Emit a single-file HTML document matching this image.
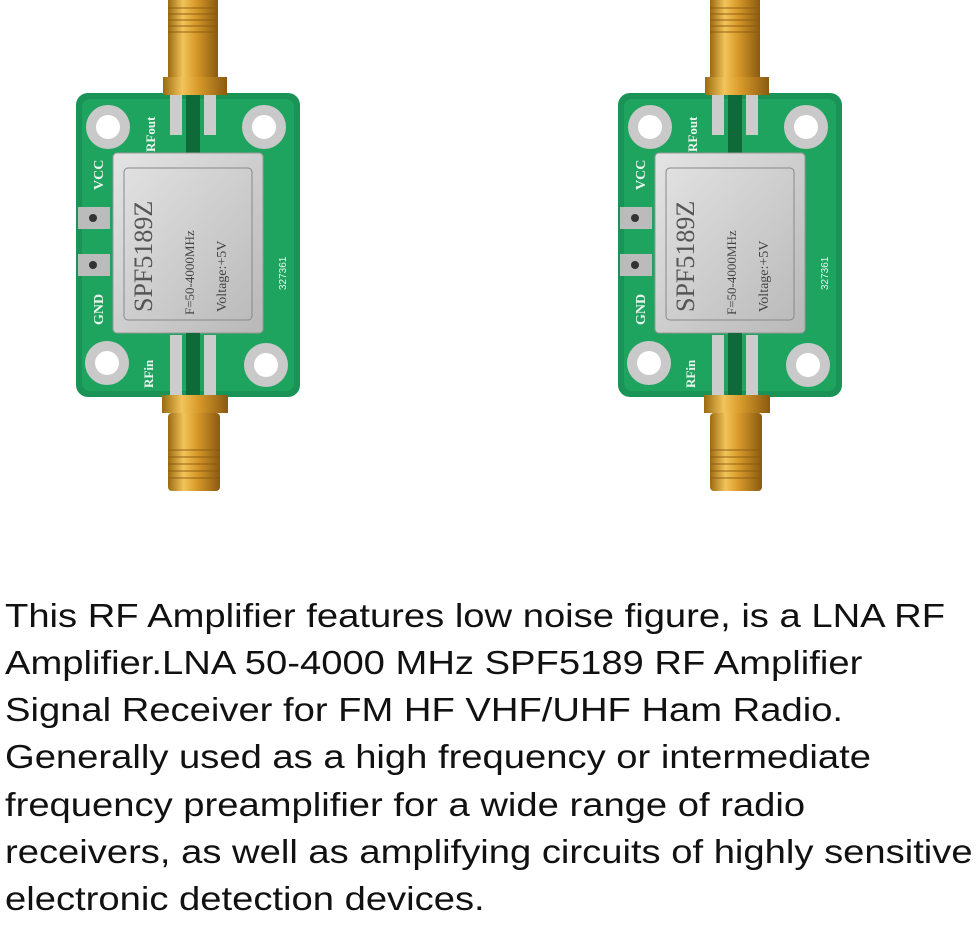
<!DOCTYPE html>
<html><head><meta charset="utf-8"><style>
html,body{margin:0;padding:0;background:#fff;width:976px;height:925px;overflow:hidden;position:relative}
.t{position:absolute;left:5px;font-family:"Comic Sans MS","Liberation Sans",sans-serif;font-size:33px;line-height:47px;white-space:nowrap;color:#111;transform:scaleX(1.157);transform-origin:0 0}
</style></head><body>
<svg width="976" height="520" style="position:absolute;left:0;top:0">
<defs>
<linearGradient id="gold" x1="0" x2="1"><stop offset="0" stop-color="#9a6a10"/><stop offset="0.3" stop-color="#f2c45a"/><stop offset="0.55" stop-color="#d89a2a"/><stop offset="1" stop-color="#8a5a10"/></linearGradient>
<linearGradient id="sil" x1="0" y1="0" x2="1" y2="1"><stop offset="0" stop-color="#e4e4e4"/><stop offset="1" stop-color="#b8b8b8"/></linearGradient>
<g id="b">
 <rect x="168" y="0" width="50" height="80" fill="url(#gold)"/>
 <g stroke="#8a5a10" stroke-width="1.5" opacity=".6"><line x1="168" y1="8" x2="218" y2="8"/><line x1="168" y1="14" x2="218" y2="14"/><line x1="168" y1="20" x2="218" y2="20"/><line x1="168" y1="26" x2="218" y2="26"/><line x1="168" y1="32" x2="218" y2="32"/></g>
 <rect x="76" y="93" width="224" height="304" rx="12" fill="#1a9456"/>
 <rect x="82" y="99" width="212" height="292" rx="8" fill="#1fa460"/>
 <rect x="163" y="77" width="64" height="18" fill="url(#gold)"/>
 <rect x="170" y="95" width="12" height="40" fill="#ccc"/><rect x="204" y="95" width="12" height="40" fill="#ccc"/>
 <rect x="186" y="95" width="14" height="58" fill="#0f6a3a"/>
 <circle cx="108" cy="127" r="22" fill="#c9c9c9"/><circle cx="108" cy="127" r="12" fill="#fff"/>
 <circle cx="264" cy="127" r="22" fill="#c9c9c9"/><circle cx="264" cy="127" r="12" fill="#fff"/>
 <circle cx="107" cy="363" r="22" fill="#c9c9c9"/><circle cx="107" cy="363" r="12" fill="#fff"/>
 <circle cx="266" cy="365" r="22" fill="#c9c9c9"/><circle cx="266" cy="365" r="12" fill="#fff"/>
 <rect x="78" y="207" width="32" height="22" fill="#bbb"/><circle cx="93" cy="218" r="4" fill="#333"/>
 <rect x="78" y="254" width="32" height="22" fill="#bbb"/><circle cx="93" cy="265" r="4" fill="#333"/>
 <rect x="113" y="153" width="150" height="180" rx="4" fill="url(#sil)" stroke="#999"/>
 <rect x="124" y="168" width="128" height="152" rx="4" fill="none" stroke="#888"/>
 <text transform="translate(152,312) rotate(-90)" font-family="Liberation Serif,serif" font-size="26" fill="#555">SPF5189Z</text>
 <text transform="translate(194,315) rotate(-90)" font-family="Liberation Serif,serif" font-size="13" fill="#444">F=50-4000MHz</text>
 <text transform="translate(226,312) rotate(-90)" font-family="Liberation Serif,serif" font-size="14" fill="#444">Voltage:+5V</text>
 <text transform="translate(103,190) rotate(-90)" font-family="Liberation Serif,serif" font-weight="bold" font-size="14" fill="#e8f5ee">VCC</text>
 <text transform="translate(103,325) rotate(-90)" font-family="Liberation Serif,serif" font-weight="bold" font-size="14" fill="#e8f5ee">GND</text>
 <text transform="translate(155,152) rotate(-90)" font-family="Liberation Serif,serif" font-weight="bold" font-size="13" fill="#e8f5ee">RFout</text>
 <text transform="translate(153,388) rotate(-90)" font-family="Liberation Serif,serif" font-weight="bold" font-size="13" fill="#e8f5ee">RFin</text>
 <text transform="translate(286,290) rotate(-90)" font-family="Liberation Sans,sans-serif" font-size="10" fill="#e8f5ee">327361</text>
 <rect x="170" y="335" width="12" height="60" fill="#ccc"/><rect x="204" y="335" width="12" height="60" fill="#ccc"/>
 <rect x="186" y="333" width="14" height="62" fill="#0f6a3a"/>
 <rect x="162" y="395" width="66" height="18" fill="url(#gold)"/>
 <rect x="168" y="413" width="52" height="78" rx="4" fill="url(#gold)"/>
 <g stroke="#8a5a10" stroke-width="1.5" opacity=".6"><line x1="168" y1="450" x2="220" y2="450"/><line x1="168" y1="457" x2="220" y2="457"/><line x1="168" y1="464" x2="220" y2="464"/><line x1="168" y1="471" x2="220" y2="471"/><line x1="168" y1="478" x2="220" y2="478"/></g>
</g>
</defs>
<use href="#b"/>
<use href="#b" x="542"/>
</svg>
<div class="t" style="top:592px">This RF Amplifier features low noise figure, is a LNA RF</div>
<div class="t" style="top:639px">Amplifier.LNA 50-4000 MHz SPF5189 RF Amplifier</div>
<div class="t" style="top:686px">Signal Receiver for FM HF VHF/UHF Ham Radio.</div>
<div class="t" style="top:733px">Generally used as a high frequency or intermediate</div>
<div class="t" style="top:781px">frequency preamplifier for a wide range of radio</div>
<div class="t" style="top:828px">receivers, as well as amplifying circuits of highly sensitive</div>
<div class="t" style="top:875px">electronic detection devices.</div>
</body></html>
